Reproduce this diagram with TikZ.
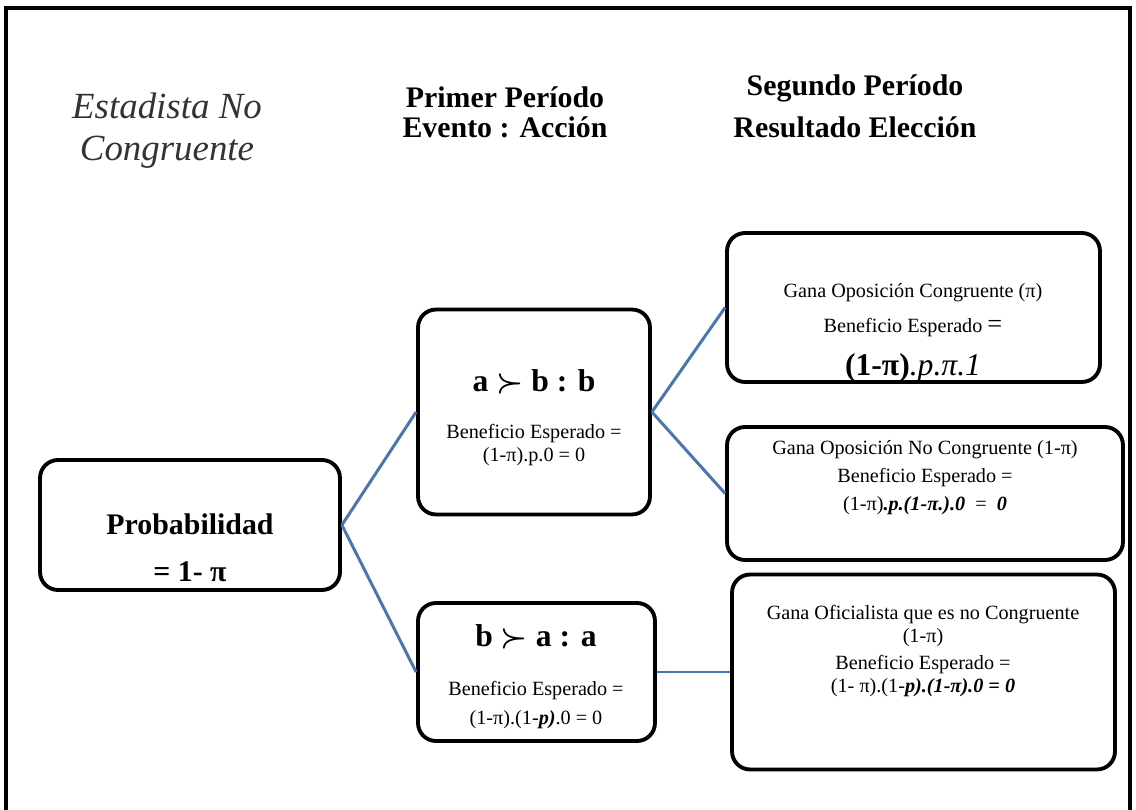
\documentclass[tikz,border=0pt]{standalone}
\usepackage{fontspec}
\setmainfont{Liberation Serif}
\definecolor{linkblue}{HTML}{4A76B0}
\begin{document}
\begin{tikzpicture}[x=0.02cm,y=-0.02cm,
  box/.style={draw=black,line width=2.2pt,rounded corners=0.36cm,inner sep=0pt},
  link/.style={draw=linkblue,line width=1.7pt},
  txt/.style={align=center,inner sep=0pt,text=black},
  head/.style={align=center,inner sep=0pt,font=\bfseries\fontsize{17}{17}\selectfont}]
\useasboundingbox (0,0) rectangle (1136,810);
% outer frame (open at the bottom)
\draw[line width=2.2pt] (6,815) -- (6,8) -- (1130,8) -- (1130,815);
% headings
\node[txt,text=black!80,font=\itshape\fontsize{21}{24}\selectfont] (h1) at (167,131) {Estadista No\\Congruente};
\node[head] (h2) at (505,112) {Primer Período\\Evento : Acción};
\node[head,font=\bfseries\fontsize{17}{24}\selectfont] (h3) at (855,106) {Segundo Período\\Resultado Elección};
% boxes
\node[box,minimum width=6cm,minimum height=2.6cm] (p) at (190,525) {};
\node[box,minimum width=4.64cm,minimum height=4.1cm] (a) at (534,412) {};
\node[box,minimum width=4.74cm,minimum height=2.76cm] (b) at (536.5,672) {};
\node[box,minimum width=7.46cm,minimum height=2.98cm] (c1) at (913.5,307.5) {};
\node[box,minimum width=7.92cm,minimum height=2.66cm] (c2) at (925,493.5) {};
\node[box,minimum width=7.66cm,minimum height=3.9cm] (c3) at (923.5,672) {};
% connectors
\draw[link] (p.east) -- (a.west);
\draw[link] (p.east) -- (b.west);
\draw[link] (a.east) -- (c1.west);
\draw[link] (a.east) -- (c2.west);
\draw[link] (b.east) -- (c3.west);
% box texts
\node[txt,font=\bfseries\fontsize{17}{27}\selectfont] (pt) at (190,548) {Probabilidad\\= 1- π};
\node[txt,font=\bfseries\boldmath\fontsize{18}{18}\selectfont] (at1) at (534,382) {a $\succ$ b : b};
\node[txt,font=\fontsize{11.5}{13.6}\selectfont] (at2) at (534,445) {Beneficio Esperado =\\(1-π).p.0 = 0};
\node[txt,font=\bfseries\boldmath\fontsize{18}{18}\selectfont] (bt1) at (536,637) {b $\succ$ a : a};
\node[txt,font=\fontsize{11.5}{17}\selectfont] (bt2) at (536,705) {Beneficio Esperado =\\(1-π).(1-\textbf{\textit{p)}}.0 = 0};
\node[txt,font=\fontsize{11.5}{20}\selectfont] (c1t) at (913,310) {Gana Oposición Congruente (π)\\Beneficio Esperado {\fontsize{15}{15}\selectfont =}};
\node[txt,font=\fontsize{18}{18}\selectfont] (c1f) at (913,368) {\textbf{(1-π)}\textit{.p.π.1}};
\node[txt,font=\fontsize{11.5}{16}\selectfont] (c2t) at (925,478) {Gana Oposición No Congruente (1-π)\\Beneficio Esperado =\\(1-π)\textbf{\textit{.p.(1-π.).0}}\ \ =\ \ \textbf{\textit{0}}};
\node[txt,font=\fontsize{11.5}{13}\selectfont] (c3t) at (923,626) {Gana Oficialista que es no Congruente\\(1-π)};
\node[txt,font=\fontsize{11.5}{13}\selectfont] (c3f) at (923,676) {Beneficio Esperado =\\(1- π).(1-\textbf{\textit{p).(1-π).0 = 0}}};
\end{tikzpicture}
\end{document}
